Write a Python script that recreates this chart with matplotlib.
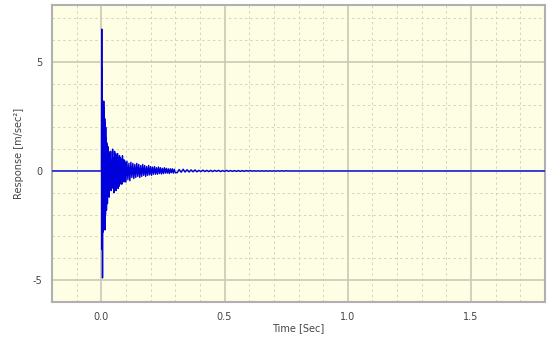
import matplotlib.pyplot as plt
from matplotlib.ticker import MultipleLocator

# tiempos (s) y respuesta (m/s^2)
t_ini = [-0.2, 0.0]
a_ini = [0.0, 0.0]

t_a = [0.001, 0.002, 0.003, 0.004, 0.005, 0.006, 0.007, 0.008, 0.009, 0.010,
       0.011, 0.012, 0.013, 0.014, 0.015, 0.016, 0.017, 0.018, 0.019, 0.020,
       0.021, 0.022, 0.023, 0.024, 0.025, 0.026, 0.027, 0.028, 0.029, 0.030]
a_a = [0.0, 6.5, -3.6, 4.7, -4.9, 3.0, -2.8, 3.1, -2.5, 3.2,
       -2.2, 2.9, -2.6, 2.4, -2.7, 2.2, -2.0, 2.0, -1.6, 1.5,
       -1.8, 1.3, -1.3, 1.2, -1.5, 1.1, -1.0, 1.1, -1.1, 0.9]

t_b = [0.032, 0.034, 0.036, 0.038, 0.040, 0.042, 0.044, 0.046, 0.048, 0.050,
       0.052, 0.054, 0.056, 0.058, 0.060, 0.062, 0.064, 0.066, 0.068, 0.070,
       0.072, 0.074, 0.076, 0.078, 0.080, 0.082, 0.084, 0.086, 0.088, 0.090,
       0.092, 0.094, 0.096, 0.098, 0.100]
a_b = [-1.2, 0.8, -0.6, 0.9, -0.9, 0.5, -0.7, 1.0, -0.8, 0.6,
       -1.0, 0.9, -0.7, 0.8, -0.9, 0.7, -0.6, 0.8, -0.8, 0.6,
       -0.7, 0.7, -0.5, 0.6, -0.6, 0.5, -0.6, 0.7, -0.5, 0.5,
       -0.4, 0.5, -0.5, 0.4, -0.5]

t_c = [0.104, 0.108, 0.112, 0.116, 0.120, 0.124, 0.128, 0.132, 0.136, 0.140,
       0.144, 0.148, 0.152, 0.156, 0.160, 0.164, 0.168, 0.172, 0.176, 0.180,
       0.184, 0.188, 0.192, 0.196, 0.200, 0.204, 0.208, 0.212, 0.216, 0.220,
       0.224, 0.228, 0.232, 0.236, 0.240, 0.244, 0.248, 0.252, 0.256, 0.260,
       0.264, 0.268, 0.272, 0.276, 0.280, 0.284, 0.288, 0.292, 0.296, 0.300]
a_c = [0.45, -0.4, 0.35, -0.45, 0.4, -0.3, 0.35, -0.35, 0.3, -0.3,
       0.35, -0.25, 0.3, -0.3, 0.25, -0.25, 0.3, -0.2, 0.25, -0.25,
       0.2, -0.2, 0.25, -0.18, 0.2, -0.2, 0.18, -0.15, 0.2, -0.15,
       0.15, -0.15, 0.18, -0.12, 0.15, -0.14, 0.12, -0.12, 0.15, -0.1,
       0.12, -0.1, 0.1, -0.12, 0.1, -0.08, 0.1, -0.1, 0.08, -0.08]

t_d = [0.308, 0.316, 0.324, 0.332, 0.340, 0.348, 0.356, 0.364, 0.372, 0.380,
       0.388, 0.396, 0.404, 0.412, 0.420, 0.428, 0.436, 0.444, 0.452, 0.460,
       0.468, 0.476, 0.484, 0.492, 0.500, 0.508, 0.516, 0.524, 0.532, 0.540,
       0.548, 0.556, 0.564, 0.572, 0.580, 0.588, 0.596, 0.604, 0.612, 0.620,
       0.628, 0.636, 0.644, 0.652, 0.660, 0.668, 0.676, 0.684, 0.692, 0.700,
       0.708, 0.716, 0.724, 0.732, 0.740, 0.748]
a_d = [-0.08, 0.07, -0.06, 0.08, -0.05, 0.06, -0.05, 0.05, -0.04, 0.05,
       -0.04, 0.03, -0.03, 0.04, -0.03, 0.03, -0.03, 0.03, -0.03, 0.03,
       -0.02, 0.03, -0.03, 0.02, -0.02, 0.03, -0.02, 0.02, -0.02, 0.02,
       -0.02, 0.02, -0.02, 0.02, -0.02, 0.02, -0.01, 0.02, -0.01, 0.01,
       -0.01, 0.01, -0.01, 0.01, -0.01, 0.01, -0.01, 0.01, -0.01, 0.01,
       -0.01, 0.01, -0.01, 0.01, -0.01, 0.01]

t_fin = [0.76, 1.8]
a_fin = [0.0, 0.0]

t = t_ini + t_a + t_b + t_c + t_d + t_fin
a = a_ini + a_a + a_b + a_c + a_d + a_fin

plt.rcParams['font.family'] = ['DejaVu Sans']
plt.rcParams['axes.unicode_minus'] = False

fig = plt.figure(figsize=(5.5, 3.37), dpi=100)
ax = fig.add_axes([0.0945, 0.104, 0.8965, 0.881])
ax.set_facecolor('#fefee4')

ax.plot(t, a, color='#0000dd', linewidth=1.0, zorder=3)

ax.set_xlim(-0.2, 1.8)
ax.set_ylim(-6.0, 7.6)
ax.xaxis.set_major_locator(MultipleLocator(0.5))
ax.xaxis.set_minor_locator(MultipleLocator(0.1))
ax.yaxis.set_major_locator(MultipleLocator(5))
ax.yaxis.set_minor_locator(MultipleLocator(1))
ax.set_xticks([0.0, 0.5, 1.0, 1.5])
ax.set_xticklabels(['0.0', '0.5', '1.0', '1.5'])

ax.grid(which='major', color='#cbc8b6', linestyle='-', linewidth=1.2)
ax.grid(which='minor', color='#d6d3bc', linestyle=(0, (2.5, 3)), linewidth=0.7)
ax.set_axisbelow(True)

ax.tick_params(which='both', length=0, labelsize=7, colors='#444444', pad=7)
for s in ax.spines.values():
    s.set_color('#b0b0b0')
    s.set_linewidth(1.5)

ax.set_xlabel('Time [Sec]', fontsize=7, color='#444444', labelpad=1)
ax.set_ylabel('Response [m/sec²]', fontsize=7, color='#444444', labelpad=6)

fig.savefig('out.png', dpi=100)
